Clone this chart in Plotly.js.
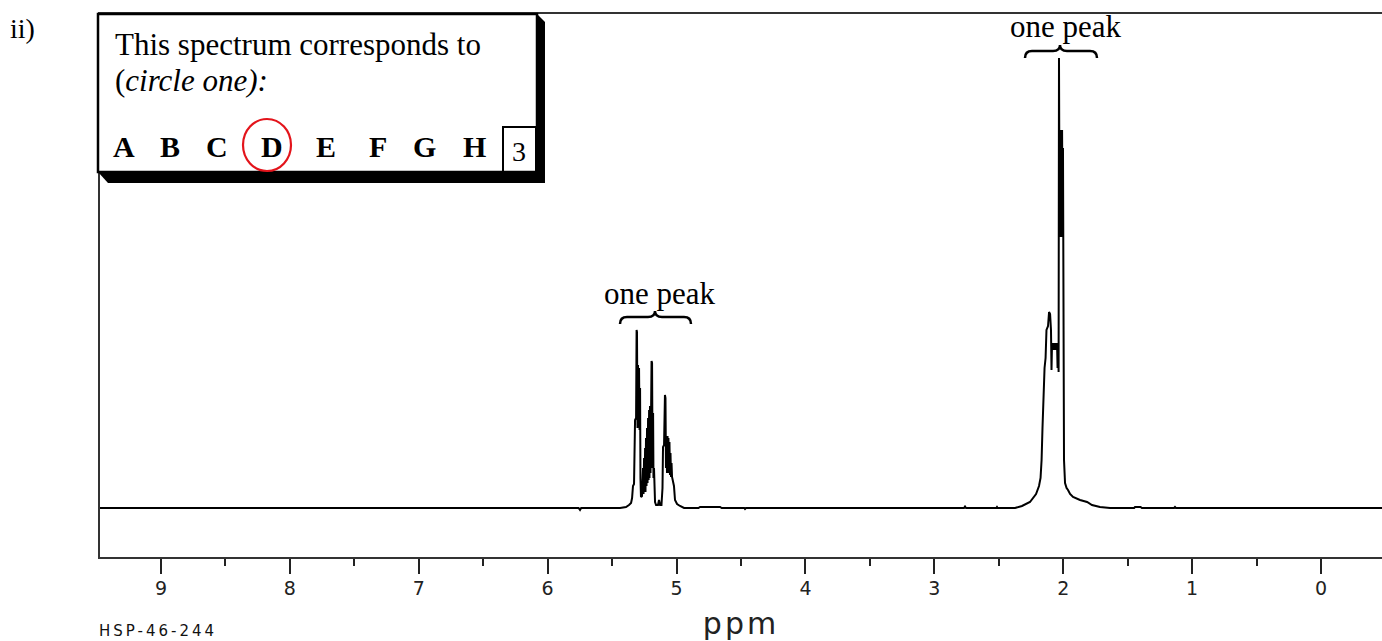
<!DOCTYPE html>
<html>
<head>
<meta charset="utf-8">
<script src="https://cdn.plot.ly/plotly-3.0.1.min.js"></script>
<style>
html,body{margin:0;padding:0;background:#fff;}
#chart{width:1382px;height:641px;}
</style>
</head>
<body>
<div id="chart"></div>
<script>
// Chemical shift (ppm) and intensity
const shiftPpm = [
  9.5, 5.760, 5.749, 5.740,
  5.438, 5.392, 5.369, 5.353, 5.345, 5.338, 5.330, 5.322, 5.314, 5.310, 5.307, 5.303, 5.299, 5.295, 5.291, 5.287,
  5.283, 5.280, 5.276, 5.268, 5.260, 5.256, 5.252, 5.248, 5.244, 5.241, 5.237, 5.233, 5.229, 5.225, 5.221, 5.217,
  5.213, 5.210, 5.206, 5.202, 5.198, 5.194, 5.190, 5.186, 5.182, 5.179, 5.175, 5.167, 5.159, 5.144, 5.136, 5.128,
  5.117, 5.109, 5.105, 5.097, 5.090, 5.086, 5.082, 5.078, 5.074, 5.070, 5.066, 5.063, 5.059, 5.055, 5.051, 5.047,
  5.043, 5.039, 5.035, 5.028, 5.020, 5.012, 4.996, 4.973, 4.942,
  4.830, 4.818, 4.662, 4.650, 4.475, 4.469, 4.462, 2.770, 2.762, 2.754, 2.520, 2.514, 2.508,
  2.374, 2.320, 2.258, 2.211, 2.188, 2.176, 2.168, 2.161, 2.153, 2.145, 2.137, 2.130, 2.118, 2.110, 2.102, 2.095,
  2.091, 2.087, 2.083, 2.079, 2.075, 2.071, 2.068, 2.064, 2.060, 2.056, 2.052, 2.048, 2.044, 2.040, 2.036, 2.033,
  2.029, 2.025, 2.021, 2.017, 2.013, 2.009, 2.005, 2.002, 1.998, 1.994, 1.986, 1.974, 1.963, 1.947, 1.924, 1.870,
  1.815, 1.777, 1.715, 1.637,
  1.450, 1.443, 1.400, 1.390, 1.140, 1.133, 1.126, -0.5
];
const intensity = [
  0, 0, -2, 0,
  0, 1, 3, 5, 10, 22, 24, 88, 90, 178, 176, 80, 143, 85, 140, 78,
  120, 30, 11, 12, 40, 14, 50, 18, 60, 16, 70, 22, 80, 25, 90, 28,
  98, 30, 102, 35, 100, 147, 145, 40, 95, 30, 40, 6, 3, 3, 8, 3,
  3, 20, 61, 63, 113, 110, 40, 70, 35, 72, 38, 70, 35, 66, 33, 55,
  31, 45, 31, 25, 22, 8, 4, 2, 0,
  0, 1, 1, 0, 0, -1, 0, 0, 1.5, 0, 0, 1, 0,
  0, 2, 6, 14, 22, 30, 48, 80, 115, 140, 150, 178, 182, 196, 194, 178,
  138, 165, 158, 165, 158, 165, 158, 165, 158, 165, 158, 165, 140, 165, 136, 450,
  300, 378, 271, 378, 271, 378, 271, 360, 60, 48, 25, 20, 18, 14, 11, 8,
  6, 3, 1, 0,
  0, 1, 1, 0, 0, 1, 0, 0
];
const tickValues = [0, 1, 2, 3, 4, 5, 6, 7, 8, 9];
const tickLabels = ['0', '1', '2', '3', '4', '5', '6', '7', '8', '9'];
const choiceLetters = ['A', 'B', 'C', 'D', 'E', 'F', 'G', 'H'];
const peakLabel = 'one peak';

// layout geometry (pixels)
const W = 1382, H = 641, ML = 100, MR = 0, MT = 14, MB = 84;
const PW = W - ML - MR, PH = H - MT - MB;
const px = X => (X - ML) / PW;
const py = Y => (H - MB - Y) / PH;
const pt = (X, Y) => px(X).toFixed(5) + ',' + py(Y).toFixed(5);

const serif = 'Liberation Serif, Times New Roman, serif';
const letterX = [124, 170, 217, 272, 326, 378, 425, 474];

const annotations = [
  {text: 'ii)', x: px(8), y: py(28), xanchor: 'left', yanchor: 'middle', size: 28},
  {text: 'This spectrum corresponds to', x: px(113), y: py(45), xanchor: 'left', yanchor: 'middle', size: 31},
  {text: '(<i>circle one):</i>', x: px(113), y: py(80), xanchor: 'left', yanchor: 'middle', size: 31},
  {text: '3', x: px(519), y: py(151), xanchor: 'center', yanchor: 'middle', size: 28},
  {text: peakLabel, x: px(1066), y: py(26), xanchor: 'center', yanchor: 'middle', size: 31},
  {text: peakLabel, x: px(660), y: py(293), xanchor: 'center', yanchor: 'middle', size: 31}
].map(a => ({
  text: a.text, x: a.x, y: a.y, xref: 'paper', yref: 'paper', xanchor: a.xanchor, yanchor: a.yanchor,
  showarrow: false, font: {family: serif, size: a.size, color: '#000'}
}));
choiceLetters.forEach((L, i) => {
  annotations.push({text: '<b>' + L + '</b>', x: px(letterX[i]), y: py(146), xref: 'paper', yref: 'paper',
    xanchor: 'center', yanchor: 'middle', showarrow: false, font: {family: serif, size: 30, color: '#000'}});
});
annotations.push({text: 'HSP-46-244', x: px(158), y: py(631), xref: 'paper', yref: 'paper', xanchor: 'center',
  yanchor: 'middle', showarrow: false, font: {family: 'DejaVu Sans', size: 15, color: '#111'}});

function brace(x0, x1, xm, yb, yt, ytip) {
  const d = 7;
  return 'M ' + pt(x0, yb) + ' Q ' + pt(x0, yt) + ' ' + pt(x0 + d, yt) + ' L ' + pt(xm - d, yt) +
    ' Q ' + pt(xm, yt) + ' ' + pt(xm, ytip) + ' Q ' + pt(xm, yt) + ' ' + pt(xm + d, yt) +
    ' L ' + pt(x1 - d, yt) + ' Q ' + pt(x1, yt) + ' ' + pt(x1, yb);
}

const shapes = [
  {type: 'path', xref: 'paper', yref: 'paper', layer: 'above',
   path: 'M ' + pt(98, 172) + ' L ' + pt(108, 183) + ' L ' + pt(545, 183) + ' L ' + pt(545, 22) + ' L ' + pt(537, 14) + ' Z',
   fillcolor: '#000', line: {width: 0}},
  {type: 'rect', xref: 'paper', yref: 'paper', layer: 'above', x0: px(98), x1: px(537), y0: py(172), y1: py(14),
   fillcolor: '#fff', line: {color: '#000', width: 2.5}},
  {type: 'rect', xref: 'paper', yref: 'paper', layer: 'above', x0: px(503), x1: px(536), y0: py(172), y1: py(127),
   line: {color: '#000', width: 2}},
  {type: 'circle', xref: 'paper', yref: 'paper', layer: 'above', x0: px(243), x1: px(291), y0: py(171), y1: py(119),
   line: {color: '#e3141b', width: 2.2}},
  {type: 'path', xref: 'paper', yref: 'paper', layer: 'above', path: brace(1025, 1097, 1060, 58, 51, 45),
   line: {color: '#000', width: 2.5}},
  {type: 'path', xref: 'paper', yref: 'paper', layer: 'above', path: brace(620, 691, 655, 324, 317, 311),
   line: {color: '#000', width: 2.5}}
];

const trace = {
  x: shiftPpm, y: intensity, type: 'scatter', mode: 'lines',
  line: {color: '#000', width: 2}, hoverinfo: 'skip'
};

const layout = {
  width: W, height: H,
  margin: {l: ML, r: MR, t: MT, b: MB, pad: 0},
  paper_bgcolor: '#fff', plot_bgcolor: '#fff',
  showlegend: false,
  xaxis: {
    range: [9.473, -0.473], tickmode: 'array', tickvals: tickValues, ticktext: tickLabels,
    ticks: 'outside', ticklen: 15, tickwidth: 2, tickcolor: '#222',
    minor: {dtick: 0.5, tick0: 0, ticks: 'outside', ticklen: 7, tickwidth: 2, tickcolor: '#222'},
    showline: true, linecolor: '#333', linewidth: 2, mirror: true,
    showgrid: false, zeroline: false,
    tickfont: {family: 'DejaVu Sans', size: 19, color: '#222'},
    ticklabelstandoff: -2,
    title: {text: 'ppm', font: {family: 'DejaVu Sans', size: 30, color: '#222'}, standoff: 17}
  },
  yaxis: {
    range: [-49, 494], showline: true, linecolor: '#333', linewidth: 2.5,
    ticks: '', showticklabels: false, showgrid: false, zeroline: false
  },
  annotations: annotations,
  shapes: shapes
};

Plotly.newPlot('chart', [trace], layout, {displayModeBar: false, staticPlot: true}).then(() => {
  document.querySelectorAll('.xtitle').forEach(t => { t.style.letterSpacing = '3px'; });
  document.querySelectorAll('.annotation-text').forEach(t => {
    if (t.textContent === 'HSP-46-244') t.style.letterSpacing = '3px';
  });
});
</script>
</body>
</html>
